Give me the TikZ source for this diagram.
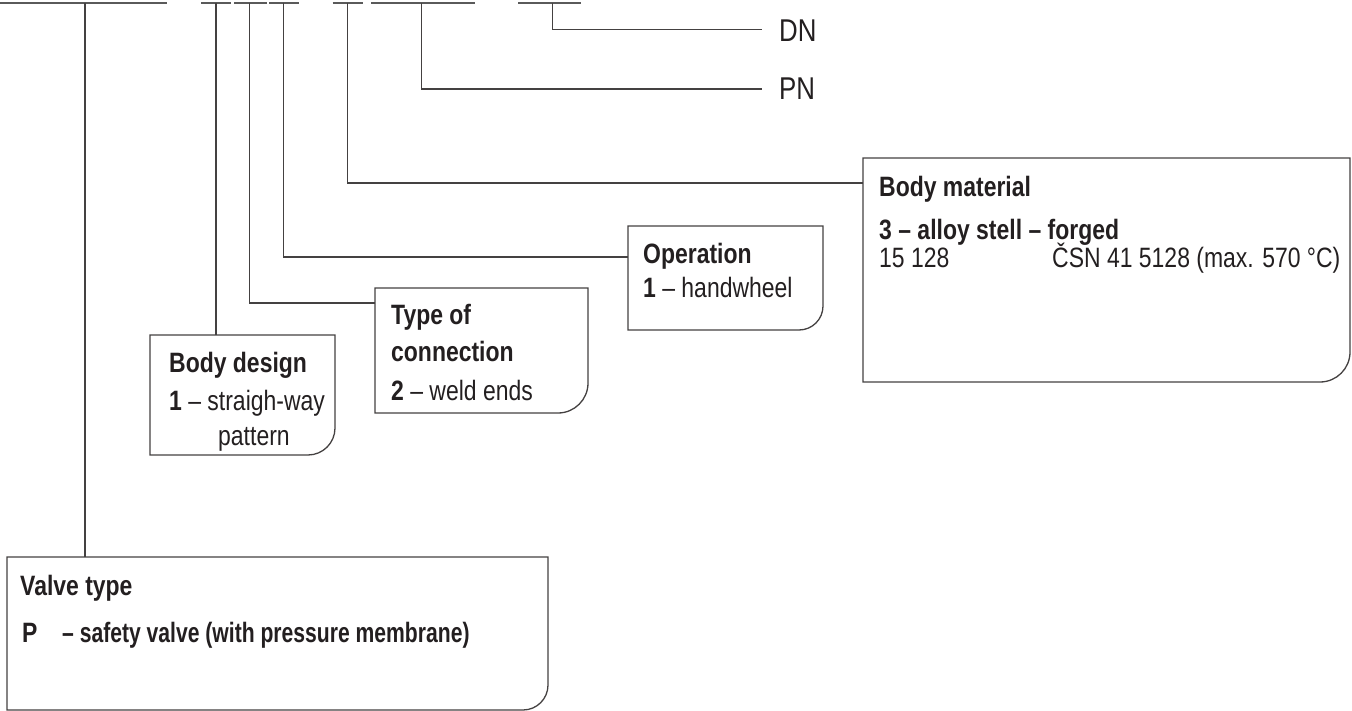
\documentclass[tikz,border=0pt]{standalone}
\usepackage{graphicx}
\usepackage{fontspec}
\setmainfont{Liberation Sans}[FakeStretch=0.82]
\definecolor{ink}{HTML}{231F20}
\definecolor{rulec}{HTML}{5A5A5A}
\tikzset{
  seg/.style={draw=rulec, line width=1.6pt},
  conn/.style={draw=ink!85, line width=1.2pt},
  boxline/.style={draw=ink!85, line width=1.3pt},
  boxnode/.style={inner sep=0pt, outer sep=0pt, anchor=north west},
  txt/.style={anchor=base west, inner sep=0pt, text=ink},
  hd/.style={txt, font=\fontsize{28}{32}\selectfont\bfseries},
  bd/.style={txt, font=\fontsize{28}{32}\selectfont},
  big/.style={txt, font=\fontsize{31.5}{36}\selectfont},
}
\newcommand\roundbox[2]{\draw[boxline] (#1.north west) -- (#1.north east) -- ([yshift=#2]#1.south east) arc[start angle=0,end angle=-90,radius=#2] -- (#1.south west) -- cycle;}
\begin{document}
\begin{tikzpicture}[x=1pt,y=-1pt]
\useasboundingbox (0,0) rectangle (1352,711);
% top code segments
\draw[seg] (0,3) -- (167,3);
\draw[seg] (201,3) -- (231,3);
\draw[seg] (234,3) -- (266.5,3);
\draw[seg] (269,3) -- (299,3);
\draw[seg] (332.6,3) -- (362.5,3);
\draw[seg] (371,3) -- (474.5,3);
\draw[seg] (518,3) -- (581,3);
\coordinate (t1) at (85,3);
\coordinate (t2) at (216,3);
\coordinate (t3) at (249.5,3);
\coordinate (t4) at (283.5,3);
\coordinate (t5) at (347.3,3);
\coordinate (t6) at (421.4,3);
\coordinate (t7) at (552.5,3);
% boxes
\node[boxnode, minimum width=541pt, minimum height=153pt] (vt) at (7,557) {};
\node[boxnode, minimum width=185pt, minimum height=120pt] (bdz) at (150,335) {};
\node[boxnode, minimum width=213pt, minimum height=125pt] (tc) at (375,288) {};
\node[boxnode, minimum width=195pt, minimum height=104pt] (op) at (628,226) {};
\node[boxnode, minimum width=487pt, minimum height=224pt] (bm) at (863,158) {};
\roundbox{vt}{25pt}
\roundbox{bdz}{27pt}
\roundbox{tc}{30pt}
\roundbox{op}{24pt}
\roundbox{bm}{30pt}
% DN / PN labels
\node[big] (dn) at (779,42) {DN};
\node[big] (pn) at (779,100) {PN};
\coordinate (dnend) at (762,29.5);
\coordinate (pnend) at (762,89);
% elbows
\coordinate (e3) at (249.5,303);
\coordinate (e4) at (283.5,257);
\coordinate (e5) at (347.3,183);
% connectors
\draw[conn] (t1) -- (t1 |- vt.north);
\draw[conn] (t2) -- (t2 |- bdz.north);
\draw[conn] (t3) -- (e3) -- (e3 -| tc.west);
\draw[conn] (t4) -- (e4) -- (e4 -| op.west);
\draw[conn] (t5) -- (e5) -- (e5 -| bm.west);
\draw[conn] (t6) |- (pnend);
\draw[conn] (t7) |- (dnend);
% texts
\node[hd] (vt1) at (20,595) {Valve type};
\node[hd] (vt2) at (22,642) {P};
\node[hd] (vt3) at (62,642) {\scalebox{0.92}[1]{– safety valve (with pressure membrane)}};
\node[hd] (bd1) at (169,372) {Body design};
\node[bd] (bd2) at (169,410) {\textbf{1} – straigh-way};
\node[bd] (bd3) at (218,445) {pattern};
\node[hd] (tc1) at (391,325) {Type of};
\node[hd] (tc2) at (391,361) {connection};
\node[bd] (tc3) at (391,400) {\textbf{2} – weld ends};
\node[hd] (op1) at (643,264) {Operation};
\node[bd] (op2) at (643,298) {\textbf{1} – handwheel};
\node[hd] (bm1) at (879,197) {Body material};
\node[hd] (bm2) at (879,240) {3 – alloy stell – forged};
\node[bd] (bm3) at (879,268) {15 128};
\node[bd] (bm4) at (1052,268) {ČSN 41 5128 (max. 570 °C)};
\end{tikzpicture}
\end{document}
